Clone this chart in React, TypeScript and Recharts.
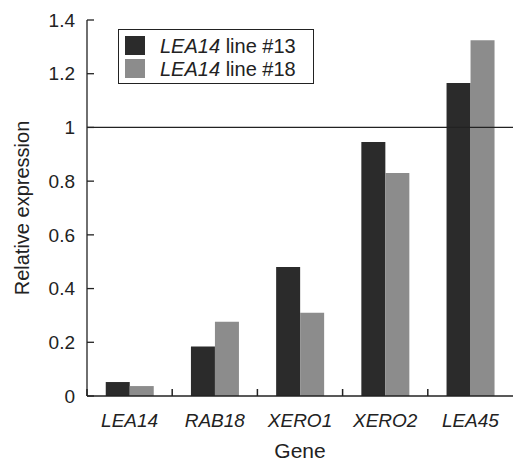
import React from 'react';
import { BarChart, Bar, XAxis, YAxis, ReferenceLine, Legend } from 'recharts';

const genes = ['LEA14', 'RAB18', 'XERO1', 'XERO2', 'LEA45'];
const line13 = [0.052, 0.184, 0.48, 0.946, 1.165];
const line18 = [0.037, 0.276, 0.31, 0.83, 1.325];
const yTicks = [0, 0.2, 0.4, 0.6, 0.8, 1, 1.2, 1.4];
const seriesNames = ['line #13', 'line #18'];
const seriesColors = ['#2b2b2b', '#8c8c8c'];

const data = genes.map((g, i) => ({ gene: g, l13: line13[i], l18: line18[i] }));

const FONT = '"Liberation Sans", Arial, sans-serif';
const INK = '#222';

const XTick = (props: any) => {
  const { x, y, payload, width, visibleTicksCount } = props;
  const half = payload && typeof payload.offset === 'number' && payload.offset > 0
    ? payload.offset
    : width / visibleTicksCount / 2;
  const axisY = Number(y) - 18;
  const bx = Number(x) - half;
  return (
    <g>
      <path d={`M${bx},${axisY}V${axisY - 7}`} stroke={INK} strokeWidth={1.5} fill="none" />
      <text x={x} y={y} dy="0.71em" textAnchor="middle" fill={INK} fontSize={19} fontStyle="italic" fontFamily={FONT}>
        {payload.value}
      </text>
    </g>
  );
};

const LegendBox = () => (
  <div
    style={{
      boxSizing: 'border-box',
      width: 196,
      height: 55,
      border: `1.5px solid ${INK}`,
      background: '#fff',
      paddingTop: 4,
      paddingLeft: 6,
      fontFamily: FONT,
      fontSize: 20,
      color: INK,
      textAlign: 'left',
    }}
  >
    {seriesNames.map((n, i) => (
      <div key={n} style={{ display: 'flex', alignItems: 'center', height: 23, lineHeight: '23px' }}>
        <span style={{ display: 'inline-block', width: 20, height: 19, background: seriesColors[i], marginRight: 15 }} />
        <span style={{ whiteSpace: 'nowrap', position: 'relative', top: 1 }}>
          <i>LEA14</i> {n}
        </span>
      </div>
    ))}
  </div>
);

export default function App() {
  return (
    <div style={{ position: 'absolute', left: 0, top: 0, background: '#fff' }}>
      <BarChart
        width={513}
        height={461}
        data={data}
        margin={{ top: 20, right: 0, bottom: 0, left: 0 }}
        barCategoryGap="22%"
        barGap={0}
      >
        <XAxis
          dataKey="gene"
          height={65}
          tickLine={false}
          tickSize={0}
          tickMargin={18}
          axisLine={{ stroke: INK, strokeWidth: 1.3 }}
          tick={<XTick />}
          interval={0}
          label={{ value: 'Gene', position: 'insideBottom', offset: 3, fill: INK, fontSize: 21, fontFamily: FONT }}
        />
        <YAxis
          width={87}
          domain={[0, 1.4]}
          ticks={yTicks}
          interval={0}
          tickSize={-7}
          tickMargin={19}
          tickLine={{ stroke: INK, strokeWidth: 1.3 }}
          axisLine={{ stroke: INK, strokeWidth: 1.3 }}
          tick={{ fill: INK, fontSize: 19, fontFamily: FONT }}
          tickFormatter={(v: number) => String(v)}
          label={{
            value: 'Relative expression',
            angle: -90,
            position: 'insideLeft',
            offset: 22,
            fill: INK,
            fontSize: 20,
            fontFamily: FONT,
            style: { textAnchor: 'middle' },
          }}
        />
        <Legend
          content={<LegendBox />}
          layout="vertical"
          verticalAlign="middle"
          align="center"
          wrapperStyle={{ left: 118, top: 29, width: 196 }}
        />
        <Bar dataKey="l13" name="LEA14 line #13" fill={seriesColors[0]} isAnimationActive={false} />
        <Bar dataKey="l18" name="LEA14 line #18" fill={seriesColors[1]} isAnimationActive={false} />
        <ReferenceLine y={1} stroke={INK} strokeWidth={1.3} />
      </BarChart>
    </div>
  );
}
